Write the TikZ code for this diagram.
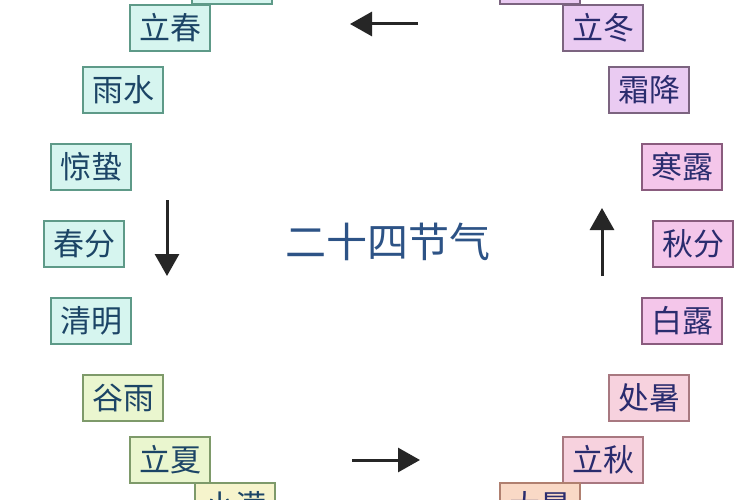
\documentclass[tikz,border=0pt]{standalone}
\usepackage{fontspec}
\newfontfamily\cjk{Noto Sans CJK SC}
\usetikzlibrary{arrows.meta}
\definecolor{cyanfill}{HTML}{D6F5EF}
\definecolor{cyanedge}{HTML}{5E9A88}
\definecolor{limefill}{HTML}{EAF6CF}
\definecolor{limeedge}{HTML}{7E9A6A}
\definecolor{yelfill}{HTML}{F6F4CC}
\definecolor{lavfill}{HTML}{EACBF2}
\definecolor{lavedge}{HTML}{7C6480}
\definecolor{pinkfill}{HTML}{F4C6EA}
\definecolor{pinkedge}{HTML}{8A5C7E}
\definecolor{rosefill}{HTML}{F7D2DE}
\definecolor{roseedge}{HTML}{A87880}
\definecolor{peachfill}{HTML}{F9D9C6}
\definecolor{peachedge}{HTML}{B08070}
\definecolor{ltext}{HTML}{1C4566}
\definecolor{rtext}{HTML}{2A2C6E}
\definecolor{ctext}{HTML}{2D5386}
\tikzset{
  term/.style={draw, line width=1.6pt, minimum width=80pt, minimum height=46pt,
    inner sep=0pt, font=\cjk\fontsize{31}{32}\selectfont},
  spring/.style={term, fill=cyanfill, draw=cyanedge, text=ltext},
  summer/.style={term, fill=limefill, draw=limeedge, text=ltext},
  summer2/.style={term, fill=yelfill, draw=limeedge, text=ltext},
  winter/.style={term, fill=lavfill, draw=lavedge, text=rtext},
  autumn/.style={term, fill=pinkfill, draw=pinkedge, text=rtext},
  autumn2/.style={term, fill=rosefill, draw=roseedge, text=rtext},
  late/.style={term, fill=peachfill, draw=peachedge, text=rtext},
  flow/.style={line width=3pt, -{Triangle[length=22pt,width=24pt]}, black!85}
}
\begin{document}
\begin{tikzpicture}[x=1pt,y=-1pt]
\useasboundingbox (0,0) rectangle (750,500);
\fill[white] (0,0) rectangle (750,500);
% left column (spring / summer)
\node[spring] (dahan) at (232,-19) {大寒};
\node[spring] (lichun) at (170,28) {立春};
\node[spring] (yushui) at (123,90) {雨水};
\node[spring] (jingzhe) at (91,167) {惊蛰};
\node[spring] (chunfen) at (84,244) {春分};
\node[spring] (qingming) at (91,321) {清明};
\node[summer] (guyu) at (123,398) {谷雨};
\node[summer] (lixia) at (170,460) {立夏};
\node[summer2] (xiaoman) at (235,506) {小满};
% right column (autumn / winter)
\node[winter] (xiaoxue) at (540,-19) {小雪};
\node[winter] (lidong) at (603,28) {立冬};
\node[winter] (shuangjiang) at (649,90) {霜降};
\node[autumn] (hanlu) at (682,167) {寒露};
\node[autumn] (qiufen) at (693,244) {秋分};
\node[autumn] (bailu) at (682,321) {白露};
\node[autumn2] (chushu) at (649,398) {处暑};
\node[autumn2] (liqiu) at (603,460) {立秋};
\node[late] (dashu) at (540,506) {大暑};
% title
\node[text=ctext, font=\cjk\fontsize{41}{43}\selectfont] (title) at (388,242) {二十四节气};
% arrows
\coordinate (ta) at (418,24); \coordinate (tb) at (350,24);
\coordinate (la) at (167,200); \coordinate (lb) at (167,276);
\coordinate (ba) at (352,460); \coordinate (bb) at (420,460);
\coordinate (ra) at (602,276); \coordinate (rb) at (602,208);
\draw[flow] (ta) -- (tb);
\draw[flow] (la) -- (lb);
\draw[flow] (ba) -- (bb);
\draw[flow] (ra) -- (rb);
\end{tikzpicture}
\end{document}
